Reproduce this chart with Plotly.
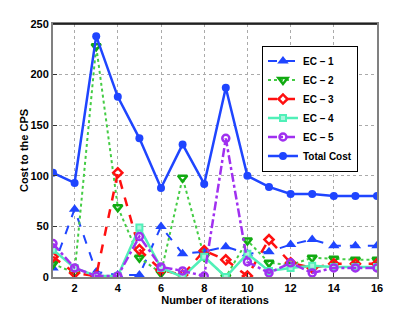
import plotly.graph_objects as go

iterations = list(range(1, 17))
ec1 = [9, 67, 5, 2, 2, 50, 23, 25, 30, 23, 25, 32, 37, 31, 31, 31]
ec2 = [13, 4, 228, 69, 19, 4, 98, 20, 0, 36, 14, 12, 19, 18, 17, 17]
ec3 = [20, 4, 1, 103, 27, 7, 2, 26, 17, 1, 37, 14, 9, 13, 13, 13]
ec4 = [27, 9, 1, 1, 49, 9, 0, 20, 0, 23, 6, 9, 11, 10, 10, 10]
ec5 = [33, 9, 1, 1, 40, 10, 6, 1, 137, 15, 4, 14, 4, 9, 9, 9]
total = [103, 93, 238, 178, 137, 88, 131, 92, 187, 100, 89, 82, 82, 80, 80, 80]

x_ticks = [2, 4, 6, 8, 10, 12, 14, 16]
y_ticks = [0, 50, 100, 150, 200, 250]

font = "Liberation Sans"

fig = go.Figure()
fig.add_trace(go.Scatter(x=iterations, y=ec1, name="<b>EC \u2013 1</b>", mode="lines+markers",
                         line=dict(color="#1f45ff", width=2, dash="dash"),
                         marker=dict(symbol="triangle-up", size=10, color="#1f45ff")))
fig.add_trace(go.Scatter(x=iterations, y=ec2, name="<b>EC \u2013 2</b>", mode="lines+markers",
                         line=dict(color="#44cc44", width=2, dash="dot"),
                         marker=dict(symbol="triangle-down-open", size=8, color="#11aa11",
                                     line=dict(width=2.5))))
fig.add_trace(go.Scatter(x=iterations, y=ec3, name="<b>EC \u2013 3</b>", mode="lines+markers",
                         line=dict(color="#ff1010", width=2.5, dash="dash"),
                         marker=dict(symbol="diamond-open", size=7, color="#ff1010",
                                     line=dict(width=2.5))))
fig.add_trace(go.Scatter(x=iterations, y=ec4, name="<b>EC \u2013 4</b>", mode="lines+markers",
                         line=dict(color="#50f0b8", width=2.5),
                         marker=dict(symbol="square", size=6, color="#a8f5dc",
                                     line=dict(color="#50f0b8", width=2))))
fig.add_trace(go.Scatter(x=iterations, y=ec5, name="<b>EC \u2013 5</b>", mode="lines+markers",
                         line=dict(color="#a030f0", width=2.5, dash="dashdot"),
                         marker=dict(symbol="circle-open", size=7, color="#a030f0",
                                     line=dict(width=2.5))))
fig.add_trace(go.Scatter(x=iterations, y=total, name="<b>Total Cost</b>", mode="lines+markers",
                         line=dict(color="#1f45ff", width=2.5),
                         marker=dict(symbol="circle", size=8, color="#1f45ff")))

axis_common = dict(showgrid=True, gridcolor="#aaaaaa", griddash="dot", gridwidth=1,
                   showline=True, linecolor="#808080", linewidth=2, mirror=True,
                   ticks="inside", ticklen=4, tickcolor="#333333", zeroline=False,
                   automargin=False,
                   tickfont=dict(family=font, size=11, color="black"))

fig.update_xaxes(range=[1, 16], tickvals=x_ticks, ticktext=[f"<b>{v}</b>" for v in x_ticks],
                 title=dict(text="<b>Number of iterations</b>", font=dict(family=font, size=11, color="black"),
                            standoff=0),
                 **axis_common)
fig.update_yaxes(range=[0, 250], tickvals=y_ticks, ticktext=[f"<b>{v}</b>" for v in y_ticks],
                 title=dict(text="<b>Cost to the CPS</b>", font=dict(family=font, size=11, color="black"),
                            standoff=0),
                 **axis_common)

fig.add_shape(type="line", xref="paper", yref="paper", x0=0, x1=1, y0=1, y1=1,
              line=dict(color="black", width=1.5))

fig.update_layout(
    width=407, height=305,
    margin=dict(l=45, r=38, t=16, b=36),
    plot_bgcolor="white", paper_bgcolor="white",
    font=dict(family=font, size=11, color="black"),
    showlegend=True,
    legend=dict(x=0.645, y=0.915, xanchor="left", yanchor="top",
                bgcolor="white", bordercolor="black", borderwidth=1,
                font=dict(family=font, size=10, color="black"),
                tracegroupgap=0, itemwidth=30),
)

fig.write_html("out.html")
